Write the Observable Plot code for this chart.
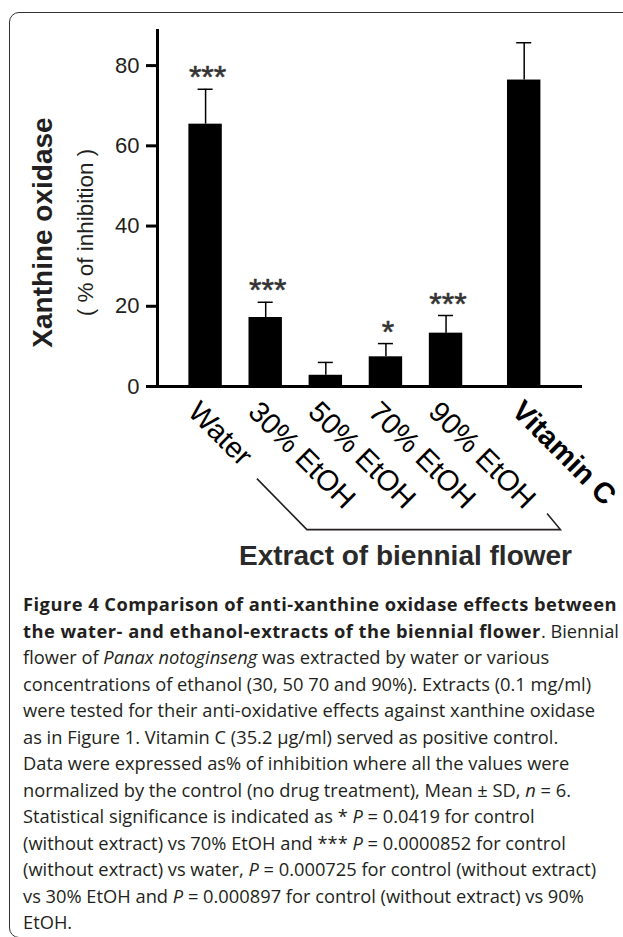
<!DOCTYPE html>
<html>
<head>
<meta charset="utf-8">
<script src="https://cdn.jsdelivr.net/npm/d3@7"></script>
<script src="https://cdn.jsdelivr.net/npm/@observablehq/plot@0.6"></script>
<style>
  html, body { margin: 0; padding: 0; background: #fff; overflow: hidden; }
  body { width: 623px; height: 937px; position: relative; }
  #frame {
    position: absolute; left: 9px; top: 12px; width: 700px; height: 926px;
    border: 1.3px solid #333; border-radius: 10px; box-sizing: border-box;
  }
  #chart { position: absolute; left: 0; top: 0; }
  #caption {
    position: absolute; left: 23px; top: 591px; width: 600px;
    font-family: "Open Sans", sans-serif; font-size: 18.3px; line-height: 26.5px;
    color: #231f20; white-space: nowrap;
  }
  #caption b { font-weight: 700; letter-spacing: 0.48px; }
</style>
</head>
<body>
<div id="frame"></div>
<div id="chart"></div>
<div id="caption">
<b>Figure 4 Comparison of anti-xanthine oxidase effects between</b><br>
<b>the water- and ethanol-extracts of the biennial flower</b>. Biennial<br>
flower of <i>Panax notoginseng</i> was extracted by water or various<br>
concentrations of ethanol (30, 50 70 and 90%). Extracts (0.1 mg/ml)<br>
were tested for their anti-oxidative effects against xanthine oxidase<br>
as in Figure 1. Vitamin C (35.2 μg/ml) served as positive control.<br>
Data were expressed as% of inhibition where all the values were<br>
normalized by the control (no drug treatment), Mean ± SD, <i>n</i> = 6.<br>
Statistical significance is indicated as * <i>P</i> = 0.0419 for control<br>
(without extract) vs 70% EtOH and *** <i>P</i> = 0.0000852 for control<br>
(without extract) vs water, <i>P</i> = 0.000725 for control (without extract)<br>
vs 30% EtOH and <i>P</i> = 0.000897 for control (without extract) vs 90%<br>
EtOH.
</div>
<script>
// ---- data ----
const categories = ["Water", "30% EtOH", "50% EtOH", "70% EtOH", "90% EtOH", "Vitamin C"];
const groups     = ["extract", "extract", "extract", "extract", "extract", "control"];
const means      = [65.4, 17.2, 2.8, 7.4, 13.3, 76.4];
const sds        = [8.7, 3.8, 3.2, 3.3, 4.4, 9.3];
const stars      = ["***", "***", "", "*", "***", ""];
const yTicks     = [0, 20, 40, 60, 80];
const yLabel     = "Xanthine oxidase";
const ySubLabel  = "( % of inhibition )";
const groupLabel = "Extract of biennial flower";

// control group is set apart by an extra gap
const GAP = 0.3;
const rows = categories.map((name, i) => ({
  name, group: groups[i], mean: means[i], sd: sds[i], star: stars[i],
  pos: i + (groups[i] === "control" ? GAP : 0)
}));
const extracts = rows.filter(d => d.group === "extract");
const controls = rows.filter(d => d.group === "control");

const HALF = 0.278;   // half bar width (in category steps)
const CAP = 0.125;    // half error-cap width
const xDomain = [-0.8, rows[rows.length - 1].pos + 0.97];
const ink = "#231f20";
const font = "'Liberation Sans', Arial, Helvetica, sans-serif";

// bracket under the extract labels (pixel offsets from scale positions)
function bracket(index, scales) {
  const x = scales.x, y = scales.y;
  const a = x(extracts[1].pos), b = x(controls[0].pos), y0 = y(0);
  const pts = [[a - 8.3, y0 + 92.6], [a + 41.7, y0 + 143.6], [b + 36.7, y0 + 143.6], [b + 23.4, y0 + 127.6]];
  return d3.create("svg:path")
    .attr("d", d3.line()(pts))
    .attr("fill", "none").attr("stroke", ink).attr("stroke-width", 1.6)
    .node();
}

const plot = Plot.plot({
  width: 623,
  height: 590,
  marginLeft: 157,
  marginRight: 41,
  marginTop: 29,
  marginBottom: 204,
  style: { fontFamily: font, background: "transparent", overflow: "visible" },
  x: { domain: xDomain, axis: null },
  y: { domain: [0, 89], axis: null },
  marks: [
    Plot.rectY(rows, { x1: d => d.pos - HALF, x2: d => d.pos + HALF, y1: 0, y2: "mean", fill: "black" }),
    Plot.ruleX(rows, { x: "pos", y1: "mean", y2: d => d.mean + d.sd, stroke: "black", strokeWidth: 1.5 }),
    Plot.ruleY(rows, { y: d => d.mean + d.sd, x1: d => d.pos - CAP, x2: d => d.pos + CAP, stroke: "black", strokeWidth: 1.5 }),
    Plot.text(rows, { x: "pos", y: d => d.mean + d.sd, text: "star", dx: 2, dy: -1, lineAnchor: "bottom", fontSize: 32, fill: "#333", stroke: "#333", strokeWidth: 0.6 }),
    Plot.axisY({ ticks: yTicks, tickSize: 11, tickPadding: 7, fontSize: 22, strokeWidth: 3, stroke: "black", fill: ink, label: null }),
    Plot.ruleX([xDomain[0]], { y1: 0, y2: 89, stroke: "black", strokeWidth: 3 }),
    Plot.ruleY([0], { stroke: "black", strokeWidth: 3 }),
    Plot.text(extracts, { x: "pos", y: 0, text: "name", rotate: 45, textAnchor: "start", lineAnchor: "bottom", dx: -19, dy: 27, fontSize: 29, fill: "black" }),
    Plot.text(controls, { x: "pos", y: 0, text: "name", rotate: 45, textAnchor: "start", lineAnchor: "bottom", dx: -14, dy: 26, fontSize: 29, fontWeight: "bold", fill: "black" }),
    Plot.text([yLabel], { frameAnchor: "left", rotate: -90, textAnchor: "middle", lineAnchor: "middle", dx: -114, dy: 24.5, fontSize: 28, fontWeight: "bold", fill: ink }),
    Plot.text([ySubLabel], { frameAnchor: "left", rotate: -90, textAnchor: "middle", lineAnchor: "middle", dx: -72, dy: 24.5, fontSize: 22.5, fill: ink }),
    bracket,
    Plot.text([groupLabel], { frameAnchor: "bottom", textAnchor: "middle", lineAnchor: "bottom", dx: 35.5, dy: 178, fontSize: 28, fontWeight: "bold", fill: "#2a2a2a" })
  ]
});
document.getElementById("chart").appendChild(plot);
</script>
</body>
</html>
